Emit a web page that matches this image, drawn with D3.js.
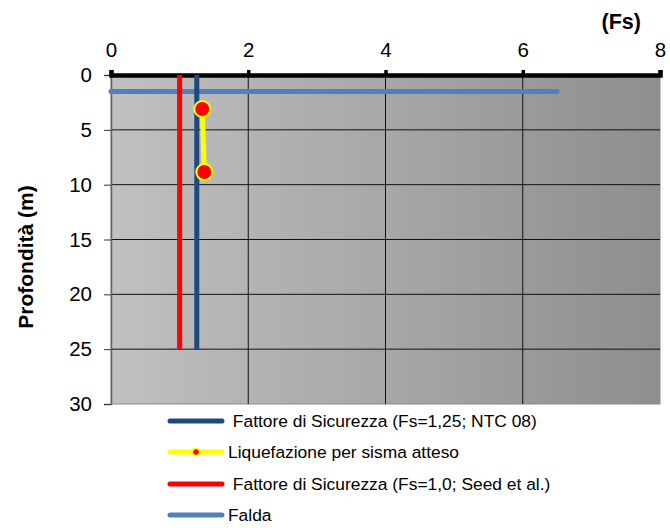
<!DOCTYPE html>
<html><head><meta charset="utf-8">
<script src="https://cdn.jsdelivr.net/npm/d3@7"></script>
<style>body{margin:0;background:#fff}svg{display:block;font-family:"Liberation Sans",Arial,sans-serif}</style>
</head><body><svg id="c" width="670" height="528"></svg>
<script>
// data
const xTicks = [0, 2, 4, 6, 8];
const yTicks = [0, 5, 10, 15, 20, 25, 30];
const fs125X = [1.25, 1.25];
const fs125Y = [0, 25];
const fs10X = [1.0, 1.0];
const fs10Y = [0, 25];
const faldaX = [0, 6.5];
const faldaY = [1.5, 1.5];
const liqX = [1.33, 1.36];
const liqY = [3.1, 8.85];
const legendLabels = [
  " Fattore di Sicurezza (Fs=1,25; NTC 08)",
  "Liquefazione per sisma atteso",
  " Fattore di Sicurezza (Fs=1,0; Seed et al.)",
  "Falda"
];

const svg = d3.select("#c");
const L = 111, R = 660, T = 75, B = 404;
const x = d3.scaleLinear().domain([0, 8]).range([L, R]);
const y = d3.scaleLinear().domain([0, 30]).range([T, B]);

const defs = svg.append("defs");
const g = defs.append("linearGradient").attr("id", "bg").attr("x1", "0").attr("x2", "1").attr("y1", "0").attr("y2", "0");
g.append("stop").attr("offset", "0").attr("stop-color", "#c0c0c0");
g.append("stop").attr("offset", "1").attr("stop-color", "#8e8e8e");

svg.append("rect").attr("x", L).attr("y", T).attr("width", R - L).attr("height", B - T)
  .attr("fill", "url(#bg)").attr("stroke", "#8a8a8a").attr("stroke-width", 1);

// gridlines
svg.append("g").selectAll("line").data(xTicks.filter(d => d > 0 && d < 8)).join("line")
  .attr("x1", d => x(d)).attr("x2", d => x(d)).attr("y1", T).attr("y2", B)
  .attr("stroke", "#111").attr("stroke-width", 1);
svg.append("g").selectAll("line").data(yTicks.filter(d => d > 0 && d < 30)).join("line")
  .attr("x1", L).attr("x2", R).attr("y1", d => y(d)).attr("y2", d => y(d))
  .attr("stroke", "#111").attr("stroke-width", 1);

// left axis
const ya = svg.append("g").attr("transform", `translate(${L},0)`)
  .call(d3.axisLeft(y).tickValues(yTicks).tickSize(7).tickPadding(12));
ya.select(".domain").attr("stroke", "#666").attr("stroke-width", 1.5);
ya.selectAll(".tick line").attr("stroke", "#333");
ya.selectAll("text").attr("font-size", 20.5).attr("fill", "#000").attr("font-family", "Liberation Sans, Arial, sans-serif");

// top axis
const xa = svg.append("g").attr("transform", `translate(0,${T})`)
  .call(d3.axisTop(x).tickValues(xTicks).tickSize(5).tickPadding(13));
xa.select(".domain").attr("stroke", "#000").attr("stroke-width", 4.5);
xa.selectAll(".tick line").attr("stroke", "#000").attr("stroke-width", 3.5);
xa.selectAll("text").attr("font-size", 20.5).attr("fill", "#000").attr("font-family", "Liberation Sans, Arial, sans-serif");

// series
const line = d3.line().x(d => x(d[0])).y(d => y(d[1]));
const zip = (a, b) => a.map((v, i) => [v, b[i]]);
svg.append("path").attr("d", line(zip(faldaX, faldaY))).attr("stroke", "#4f81bd").attr("stroke-width", 5)
  .attr("stroke-linecap", "round").attr("fill", "none");
svg.append("path").attr("d", line(zip(fs10X, fs10Y))).attr("stroke", "#ff0000").attr("stroke-width", 5).attr("fill", "none");
svg.append("path").attr("d", line(zip(fs125X, fs125Y))).attr("stroke", "#1f497d").attr("stroke-width", 5).attr("fill", "none");
svg.append("path").attr("d", line(zip(liqX, liqY))).attr("stroke", "#ffff00").attr("stroke-width", 5).attr("fill", "none");
svg.append("g").selectAll("circle").data(zip(liqX, liqY)).join("circle")
  .attr("cx", d => x(d[0])).attr("cy", d => y(d[1])).attr("r", 8)
  .attr("fill", "#ff0000").attr("stroke", "#ffff00").attr("stroke-width", 2);

// titles
svg.append("text").attr("x", 641).attr("y", 29).attr("text-anchor", "end").attr("font-size", 21.5)
  .attr("font-weight", "bold").text("(Fs)");
svg.append("text").attr("transform", "translate(33,257) rotate(-90)").attr("text-anchor", "middle")
  .attr("font-size", 21).attr("font-weight", "bold").text("Profondità (m)");

// legend
const lg = svg.append("g");
const legColors = ["#1f497d", "#ffff00", "#ff0000", "#4f81bd"];
const rowsY = [421, 452, 484, 515];
legendLabels.forEach((lab, i) => {
  lg.append("line").attr("x1", 170).attr("x2", 222).attr("y1", rowsY[i]).attr("y2", rowsY[i])
    .attr("stroke", legColors[i]).attr("stroke-width", 5).attr("stroke-linecap", "round");
  if (i === 1) {
    lg.append("circle").attr("cx", 196).attr("cy", rowsY[i]).attr("r", 3.5)
      .attr("fill", "#ff0000").attr("stroke", "#ffff00").attr("stroke-width", 1.5);
  }
  lg.append("text").attr("x", 228).attr("y", rowsY[i]).attr("dy", "0.35em").attr("font-size", 17.4)
    .attr("fill", "#000").attr("xml:space", "preserve").style("white-space", "pre").text(lab);
});
</script></body></html>
